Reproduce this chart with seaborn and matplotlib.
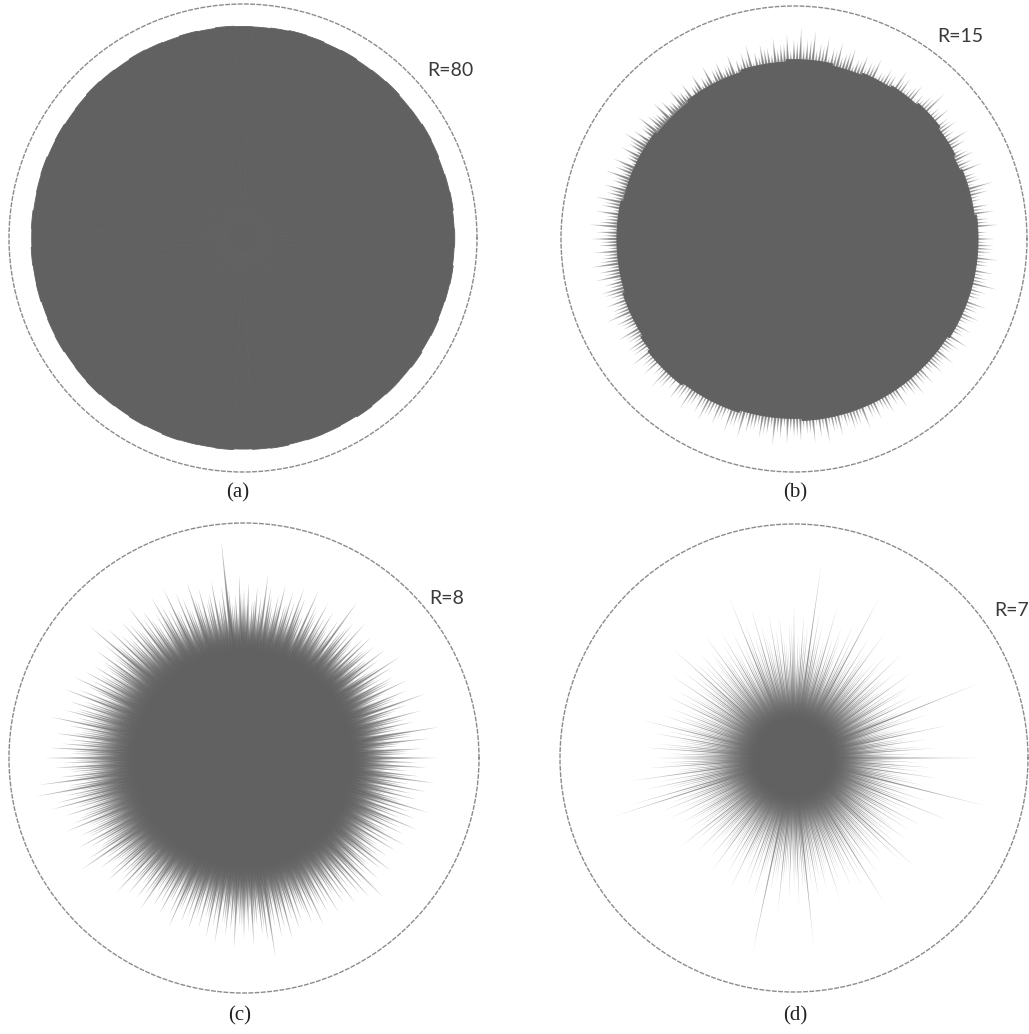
import numpy as np
import matplotlib
matplotlib.use('Agg')
import matplotlib.pyplot as plt
import seaborn as sns

# ---- data (radius relative to the dashed circle = 1) ----
# angles run counter-clockwise from east, evenly spaced over each list;
# the "hairs"/"rays2" lists sit half a step between the main spikes

# (a) R=80: almost perfect disc, slightly rough edge
a_edge = [0.905, 0.903, 0.906, 0.904, 0.902, 0.905, 0.907, 0.904, 0.903, 0.906, 0.904, 0.902,
          0.905, 0.903, 0.906, 0.908, 0.905, 0.903, 0.904, 0.906, 0.903, 0.905, 0.902, 0.904,
          0.906, 0.903, 0.905, 0.907, 0.904, 0.902, 0.905, 0.903, 0.906, 0.904, 0.902, 0.905,
          0.903, 0.906, 0.904, 0.905, 0.902, 0.904, 0.906, 0.903, 0.905, 0.907, 0.904, 0.902,
          0.905, 0.903, 0.906, 0.904, 0.903, 0.905, 0.902, 0.904, 0.906, 0.903, 0.905, 0.904,
          0.902, 0.906, 0.903, 0.905, 0.904, 0.907, 0.903, 0.905, 0.902, 0.904, 0.906, 0.903]

# (b) R=15: solid body plus short spikes
b_core = [0.79, 0.79, 0.78, 0.78, 0.78, 0.77, 0.78, 0.78, 0.79, 0.79, 0.78, 0.78,
          0.77, 0.77, 0.76, 0.76, 0.77, 0.77, 0.77, 0.76, 0.76, 0.76, 0.75, 0.75,
          0.75, 0.75, 0.74, 0.74, 0.74, 0.75, 0.75, 0.75, 0.75, 0.75, 0.76, 0.76,
          0.76, 0.76, 0.76, 0.76, 0.77, 0.77, 0.77, 0.78, 0.79, 0.79, 0.79, 0.78,
          0.78, 0.78, 0.78, 0.77, 0.77, 0.77, 0.77, 0.78, 0.78, 0.78, 0.78, 0.78,
          0.78, 0.78, 0.78, 0.78, 0.78, 0.78, 0.79, 0.79, 0.79, 0.79, 0.79, 0.79]
b_spikes = [0.86, 0.83, 0.88, 0.84, 0.87, 0.85, 0.82, 0.86, 0.89, 0.84,
            0.83, 0.87, 0.84, 0.86, 0.82, 0.85, 0.88, 0.83, 0.86, 0.84,
            0.87, 0.84, 0.90, 0.85, 0.83, 0.86, 0.82, 0.85, 0.87, 0.83,
            0.84, 0.81, 0.86, 0.83, 0.85, 0.82, 0.86, 0.83, 0.87, 0.84,
            0.88, 0.85, 0.90, 0.86, 0.91, 0.86, 0.88, 0.84, 0.87, 0.83,
            0.85, 0.82, 0.86, 0.83, 0.81, 0.84, 0.80, 0.83, 0.81, 0.84,
            0.80, 0.83, 0.79, 0.82, 0.80, 0.83, 0.79, 0.82, 0.84, 0.80,
            0.82, 0.85, 0.81, 0.83, 0.86, 0.82, 0.84, 0.80, 0.85, 0.83,
            0.86, 0.82, 0.85, 0.83, 0.87, 0.84, 0.86, 0.82, 0.88, 0.85,
            0.87, 0.84, 0.86, 0.83, 0.88, 0.85, 0.87, 0.84, 0.86, 0.83,
            0.86, 0.84, 0.88, 0.85, 0.83, 0.87, 0.84, 0.86, 0.85, 0.88,
            0.85, 0.87, 0.84, 0.88, 0.86, 0.84, 0.87, 0.85, 0.88, 0.84,
            0.86, 0.88, 0.85, 0.87, 0.84, 0.88, 0.85, 0.89, 0.86, 0.84,
            0.87, 0.85, 0.89, 0.86, 0.88, 0.85, 0.87, 0.84, 0.88, 0.86,
            0.89, 0.85, 0.87, 0.84, 0.86, 0.85, 0.88, 0.84, 0.86, 0.83,
            0.86, 0.84, 0.87, 0.83, 0.85, 0.87, 0.84, 0.86, 0.83, 0.86,
            0.84, 0.87, 0.83, 0.85, 0.88, 0.84, 0.86, 0.83, 0.87, 0.85,
            0.88, 0.84, 0.86, 0.90, 0.85, 0.87, 0.84, 0.88, 0.85, 0.86]
b_hairs = [0.82, 0.80, 0.84, 0.81, 0.83, 0.80, 0.82, 0.85, 0.81, 0.83,
           0.80, 0.82, 0.81, 0.84, 0.80, 0.83, 0.81, 0.82, 0.84, 0.80,
           0.83, 0.81, 0.85, 0.82, 0.80, 0.84, 0.81, 0.83, 0.80, 0.82,
           0.81, 0.79, 0.83, 0.80, 0.82, 0.79, 0.84, 0.81, 0.83, 0.80,
           0.84, 0.82, 0.86, 0.83, 0.85, 0.81, 0.84, 0.82, 0.80, 0.83,
           0.80, 0.78, 0.81, 0.79, 0.77, 0.80, 0.78, 0.81, 0.77, 0.79,
           0.77, 0.79, 0.76, 0.78, 0.80, 0.77, 0.79, 0.76, 0.78, 0.80,
           0.78, 0.81, 0.77, 0.79, 0.82, 0.78, 0.80, 0.77, 0.81, 0.79,
           0.81, 0.79, 0.82, 0.80, 0.83, 0.79, 0.81, 0.84, 0.80, 0.82,
           0.83, 0.80, 0.82, 0.84, 0.81, 0.83, 0.80, 0.82, 0.85, 0.81,
           0.82, 0.84, 0.81, 0.83, 0.80, 0.84, 0.82, 0.85, 0.81, 0.83,
           0.84, 0.81, 0.83, 0.85, 0.82, 0.80, 0.84, 0.82, 0.85, 0.81,
           0.83, 0.85, 0.82, 0.84, 0.81, 0.85, 0.83, 0.81, 0.84, 0.82,
           0.85, 0.82, 0.84, 0.81, 0.83, 0.85, 0.82, 0.84, 0.81, 0.83,
           0.82, 0.84, 0.81, 0.83, 0.85, 0.82, 0.80, 0.83, 0.81, 0.84,
           0.81, 0.83, 0.80, 0.82, 0.84, 0.81, 0.83, 0.80, 0.82, 0.84,
           0.83, 0.81, 0.84, 0.82, 0.80, 0.83, 0.81, 0.85, 0.82, 0.84,
           0.81, 0.84, 0.82, 0.85, 0.83, 0.81, 0.84, 0.82, 0.86, 0.83]

# (c) R=8: dense body with long hairs
c_core = [0.39, 0.37, 0.40, 0.41, 0.40, 0.38, 0.41, 0.43, 0.42, 0.44, 0.42, 0.40,
          0.39, 0.38, 0.40, 0.39, 0.38, 0.37, 0.38, 0.37, 0.39, 0.41, 0.40, 0.42,
          0.43, 0.44, 0.45, 0.44, 0.43, 0.42, 0.41, 0.39, 0.38, 0.37, 0.38, 0.37]
c_spikes = [0.82, 0.70, 0.76, 0.66, 0.79, 0.72, 0.84, 0.68, 0.74, 0.71,
            0.78, 0.66, 0.73, 0.82, 0.69, 0.75, 0.64, 0.77, 0.70, 0.72,
            0.68, 0.74, 0.79, 0.65, 0.71, 0.76, 0.67, 0.73, 0.69, 0.75,
            0.72, 0.66, 0.77, 0.70, 0.74, 0.68, 0.82, 0.71, 0.65, 0.73,
            0.69, 0.75, 0.67, 0.72, 0.78, 0.66, 0.73, 0.77, 0.70, 0.74,
            0.68, 0.76, 0.71, 0.66, 0.74, 0.79, 0.69, 0.73, 0.67, 0.75,
            0.72, 0.78, 0.70, 0.66, 0.93, 0.74, 0.69, 0.77, 0.72, 0.68,
            0.75, 0.70, 0.79, 0.67, 0.73, 0.76, 0.69, 0.80, 0.71, 0.74,
            0.79, 0.72, 0.68, 0.76, 0.73, 0.81, 0.70, 0.75, 0.78, 0.71,
            0.74, 0.80, 0.72, 0.87, 0.76, 0.70, 0.78, 0.73, 0.69, 0.75,
            0.71, 0.77, 0.73, 0.80, 0.69, 0.76, 0.82, 0.72, 0.78, 0.74,
            0.79, 0.73, 0.84, 0.76, 0.71, 0.81, 0.75, 0.78, 0.83, 0.74,
            0.85, 0.77, 0.81, 0.74, 0.79, 0.88, 0.76, 0.90, 0.78, 0.82,
            0.85, 0.75, 0.80, 0.73, 0.78, 0.82, 0.71, 0.77, 0.74, 0.80,
            0.76, 0.72, 0.79, 0.84, 0.73, 0.77, 0.70, 0.75, 0.78, 0.72,
            0.74, 0.79, 0.71, 0.76, 0.69, 0.75, 0.72, 0.78, 0.68, 0.74,
            0.71, 0.76, 0.69, 0.74, 0.79, 0.70, 0.75, 0.72, 0.77, 0.71,
            0.75, 0.70, 0.78, 0.73, 0.80, 0.71, 0.76, 0.74, 0.81, 0.72,
            0.77, 0.74, 0.80, 0.72, 0.76, 0.79, 0.86, 0.73, 0.78, 0.75,
            0.80, 0.72, 0.77, 0.74, 0.70, 0.76, 0.73, 0.79, 0.71, 0.75,
            0.72, 0.77, 0.70, 0.75, 0.73, 0.78, 0.71, 0.76, 0.80, 0.74,
            0.84, 0.72, 0.77, 0.70, 0.75, 0.79, 0.71, 0.74, 0.68, 0.76,
            0.72, 0.78, 0.69, 0.75, 0.73, 0.80, 0.71, 0.77, 0.74, 0.82,
            0.70, 0.76, 0.73, 0.79, 0.71, 0.82, 0.75, 0.70, 0.78, 0.74]
c_hairs = [0.64, 0.70, 0.60, 0.67, 0.62, 0.72, 0.58, 0.66, 0.63, 0.69,
           0.61, 0.68, 0.57, 0.65, 0.70, 0.60, 0.66, 0.62, 0.71, 0.59,
           0.66, 0.61, 0.69, 0.58, 0.64, 0.67, 0.60, 0.70, 0.63, 0.59,
           0.62, 0.68, 0.60, 0.65, 0.71, 0.58, 0.64, 0.61, 0.67, 0.63,
           0.66, 0.60, 0.70, 0.62, 0.58, 0.65, 0.69, 0.61, 0.64, 0.68,
           0.60, 0.67, 0.63, 0.70, 0.59, 0.65, 0.62, 0.68, 0.61, 0.66,
           0.69, 0.62, 0.66, 0.72, 0.60, 0.67, 0.64, 0.61, 0.70, 0.63,
           0.65, 0.71, 0.62, 0.68, 0.64, 0.60, 0.69, 0.66, 0.63, 0.70,
           0.67, 0.63, 0.71, 0.65, 0.69, 0.62, 0.72, 0.66, 0.64, 0.70,
           0.68, 0.64, 0.73, 0.66, 0.70, 0.63, 0.69, 0.72, 0.65, 0.67,
           0.70, 0.65, 0.68, 0.73, 0.64, 0.69, 0.66, 0.71, 0.67, 0.74,
           0.68, 0.72, 0.66, 0.70, 0.74, 0.67, 0.71, 0.69, 0.73, 0.70,
           0.72, 0.68, 0.75, 0.70, 0.73, 0.69, 0.76, 0.71, 0.74, 0.70,
           0.73, 0.69, 0.71, 0.75, 0.68, 0.72, 0.70, 0.74, 0.67, 0.71,
           0.69, 0.73, 0.67, 0.71, 0.66, 0.72, 0.68, 0.70, 0.65, 0.69,
           0.67, 0.63, 0.70, 0.65, 0.68, 0.62, 0.69, 0.66, 0.64, 0.67,
           0.64, 0.68, 0.62, 0.66, 0.70, 0.63, 0.67, 0.65, 0.69, 0.62,
           0.66, 0.70, 0.64, 0.68, 0.63, 0.71, 0.65, 0.69, 0.67, 0.72,
           0.68, 0.65, 0.71, 0.67, 0.73, 0.66, 0.70, 0.64, 0.69, 0.67,
           0.65, 0.69, 0.63, 0.67, 0.71, 0.64, 0.68, 0.66, 0.70, 0.62,
           0.66, 0.63, 0.69, 0.65, 0.61, 0.68, 0.64, 0.67, 0.62, 0.70,
           0.67, 0.64, 0.70, 0.62, 0.66, 0.69, 0.63, 0.68, 0.65, 0.61,
           0.64, 0.68, 0.62, 0.66, 0.70, 0.63, 0.67, 0.60, 0.65, 0.69,
           0.62, 0.66, 0.60, 0.68, 0.64, 0.70, 0.61, 0.67, 0.63, 0.65]

# (d) R=7: rays from the centre
d_core = [0.15, 0.13, 0.14, 0.12, 0.13, 0.16, 0.14, 0.17, 0.15, 0.18, 0.16, 0.14,
          0.13, 0.15, 0.12, 0.14, 0.13, 0.15, 0.14, 0.12, 0.13, 0.11, 0.14, 0.16,
          0.15, 0.17, 0.16, 0.14, 0.15, 0.13, 0.14, 0.12, 0.15, 0.13, 0.16, 0.14]
d_spikes = [0.79, 0.52, 0.61, 0.47, 0.58, 0.50, 0.68, 0.55, 0.45, 0.60,
            0.53, 0.86, 0.49, 0.62, 0.56, 0.44, 0.59, 0.51, 0.63, 0.48,
            0.57, 0.52, 0.64, 0.46, 0.60, 0.54, 0.50, 0.66, 0.55, 0.61,
            0.51, 0.78, 0.58, 0.63, 0.49, 0.60, 0.55, 0.67, 0.52, 0.59,
            0.64, 0.84, 0.57, 0.62, 0.53, 0.66, 0.58, 0.50, 0.61, 0.56,
            0.63, 0.52, 0.59, 0.67, 0.55, 0.61, 0.74, 0.54, 0.60, 0.51,
            0.62, 0.57, 0.53, 0.65, 0.58, 0.50, 0.61, 0.55, 0.59, 0.70,
            0.56, 0.60, 0.52, 0.63, 0.48, 0.58, 0.54, 0.61, 0.50, 0.57,
            0.53, 0.59, 0.49, 0.67, 0.55, 0.62, 0.51, 0.58, 0.64, 0.54,
            0.60, 0.56, 0.63, 0.52, 0.71, 0.58, 0.65, 0.55, 0.72, 0.81,
            0.57, 0.61, 0.53, 0.59, 0.50, 0.56, 0.48, 0.54, 0.51, 0.62,
            0.55, 0.49, 0.58, 0.52, 0.47, 0.56, 0.50, 0.60, 0.46, 0.53,
            0.57, 0.51, 0.62, 0.48, 0.55, 0.59, 0.53, 0.64, 0.50, 0.86,
            0.58, 0.54, 0.66, 0.51, 0.60, 0.56, 0.63, 0.57, 0.80, 0.55,
            0.61, 0.53, 0.58, 0.50, 0.64, 0.56, 0.52, 0.60, 0.55, 0.62,
            0.58, 0.73, 0.54, 0.61, 0.50, 0.59, 0.56, 0.52, 0.63, 0.70,
            0.57, 0.53, 0.60, 0.49, 0.58, 0.55, 0.62, 0.51, 0.56, 0.71,
            0.54, 0.60, 0.52, 0.85, 0.57, 0.50, 0.63, 0.55, 0.59, 0.53]
d_rays2 = [0.48, 0.42, 0.55, 0.45, 0.50, 0.40, 0.53, 0.47, 0.43, 0.51,
           0.46, 0.52, 0.41, 0.49, 0.44, 0.56, 0.47, 0.42, 0.50, 0.45,
           0.51, 0.44, 0.48, 0.53, 0.43, 0.50, 0.46, 0.54, 0.42, 0.49,
           0.45, 0.52, 0.47, 0.43, 0.55, 0.48, 0.44, 0.51, 0.46, 0.53,
           0.50, 0.46, 0.54, 0.49, 0.45, 0.57, 0.48, 0.52, 0.44, 0.50,
           0.47, 0.53, 0.45, 0.51, 0.48, 0.55, 0.46, 0.50, 0.43, 0.52,
           0.49, 0.44, 0.52, 0.47, 0.54, 0.45, 0.50, 0.48, 0.42, 0.51,
           0.46, 0.50, 0.43, 0.48, 0.52, 0.44, 0.49, 0.41, 0.47, 0.45,
           0.50, 0.45, 0.53, 0.47, 0.44, 0.51, 0.48, 0.55, 0.46, 0.52,
           0.49, 0.54, 0.47, 0.52, 0.45, 0.50, 0.56, 0.48, 0.53, 0.46,
           0.51, 0.46, 0.49, 0.43, 0.47, 0.52, 0.44, 0.48, 0.41, 0.46,
           0.44, 0.49, 0.42, 0.47, 0.40, 0.45, 0.48, 0.43, 0.46, 0.41,
           0.47, 0.43, 0.50, 0.45, 0.41, 0.48, 0.44, 0.51, 0.46, 0.49,
           0.52, 0.47, 0.54, 0.49, 0.45, 0.53, 0.48, 0.56, 0.50, 0.47,
           0.50, 0.45, 0.52, 0.48, 0.44, 0.51, 0.47, 0.53, 0.46, 0.49,
           0.46, 0.51, 0.44, 0.49, 0.53, 0.45, 0.48, 0.42, 0.50, 0.47,
           0.49, 0.44, 0.52, 0.46, 0.42, 0.50, 0.45, 0.48, 0.43, 0.51,
           0.45, 0.50, 0.43, 0.48, 0.52, 0.46, 0.41, 0.49, 0.44, 0.47]

panel_labels = ['R=80', 'R=15', 'R=8', 'R=7']
captions = ['(a)', '(b)', '(c)', '(d)']

GRAY = '#616161'
W, H = 1029, 1034

sns.set_theme(style='white')
plt.rcParams['font.family'] = ['Lato', 'DejaVu Sans']


def angles(vals, shift=0.0):
    step = 2 * np.pi / len(vals)
    return np.arange(len(vals)) * step + shift * step


def fill_body(ax, radii, alpha=1.0):
    # polar bars keep the outer edge a true arc
    t = angles(radii)
    lw = 0.6 if alpha == 1.0 else 0
    ax.bar(t, radii, width=2 * np.pi / len(radii), bottom=0, color=GRAY,
           edgecolor=GRAY, linewidth=lw, alpha=alpha, align='center')


def draw_spikes(ax, tips, r_base, half_w, alpha, shift=0.0, fades=(1.0, 0.75, 0.5)):
    hw = np.deg2rad(half_w)
    for t, rt in zip(angles(tips, shift), tips):
        for f in fades:
            tip = r_base + (rt - r_base) * f
            ax.fill([t, t - hw, t, t + hw], [0, r_base, tip, r_base],
                    color=GRAY, alpha=alpha, lw=0)


def make_ax(fig, cx, cy, r):
    ax = fig.add_axes([(cx - r) / W, (H - cy - r) / H, 2 * r / W, 2 * r / H],
                      projection='polar')
    ax.set_ylim(0, 1)
    ax.grid(False)
    ax.set_xticks([])
    ax.set_yticks([])
    ax.set_facecolor('none')
    sp = ax.spines['polar']
    sp.set_linestyle((0, (2.5, 2.0)))
    sp.set_edgecolor('#8c8c8c')
    sp.set_linewidth(1.0)
    return ax


fig = plt.figure(figsize=(W / 100, H / 100), dpi=100)

ax_a = make_ax(fig, 243, 238, 234)
fill_body(ax_a, a_edge)

ax_b = make_ax(fig, 794, 239, 233)
draw_spikes(ax_b, b_spikes, 0.74, 0.55, 0.38)
draw_spikes(ax_b, b_hairs, 0.74, 0.55, 0.38, shift=0.5)
fill_body(ax_b, b_core)

ax_c = make_ax(fig, 244, 758, 235)
draw_spikes(ax_c, c_spikes, 0.43, 1.25, 0.45)
draw_spikes(ax_c, c_hairs, 0.43, 1.25, 0.45, shift=0.5)
fill_body(ax_c, c_core)

ax_d = make_ax(fig, 794, 758, 234)
draw_spikes(ax_d, d_spikes, 0.12, 2.5, 0.38)
draw_spikes(ax_d, d_rays2, 0.12, 2.5, 0.38, shift=0.5)
fill_body(ax_d, d_core, 0.3)

label_pos = [(450, 70), (960, 37), (447, 598), (1012, 610)]
cap_pos = [(238, 493), (795, 493), (240, 1016), (795, 1016)]
for lab, (lx, ly), cap, (qx, qy) in zip(panel_labels, label_pos, captions, cap_pos):
    fig.text(lx / W, 1 - ly / H, lab, ha='center', va='center', fontsize=14, color='#3a3a3a')
    fig.text(qx / W, 1 - qy / H, cap, ha='center', va='center', fontsize=15,
             family=['Liberation Serif', 'DejaVu Serif'], color='#222222')

plt.savefig('out.png', dpi=100, facecolor='white')
